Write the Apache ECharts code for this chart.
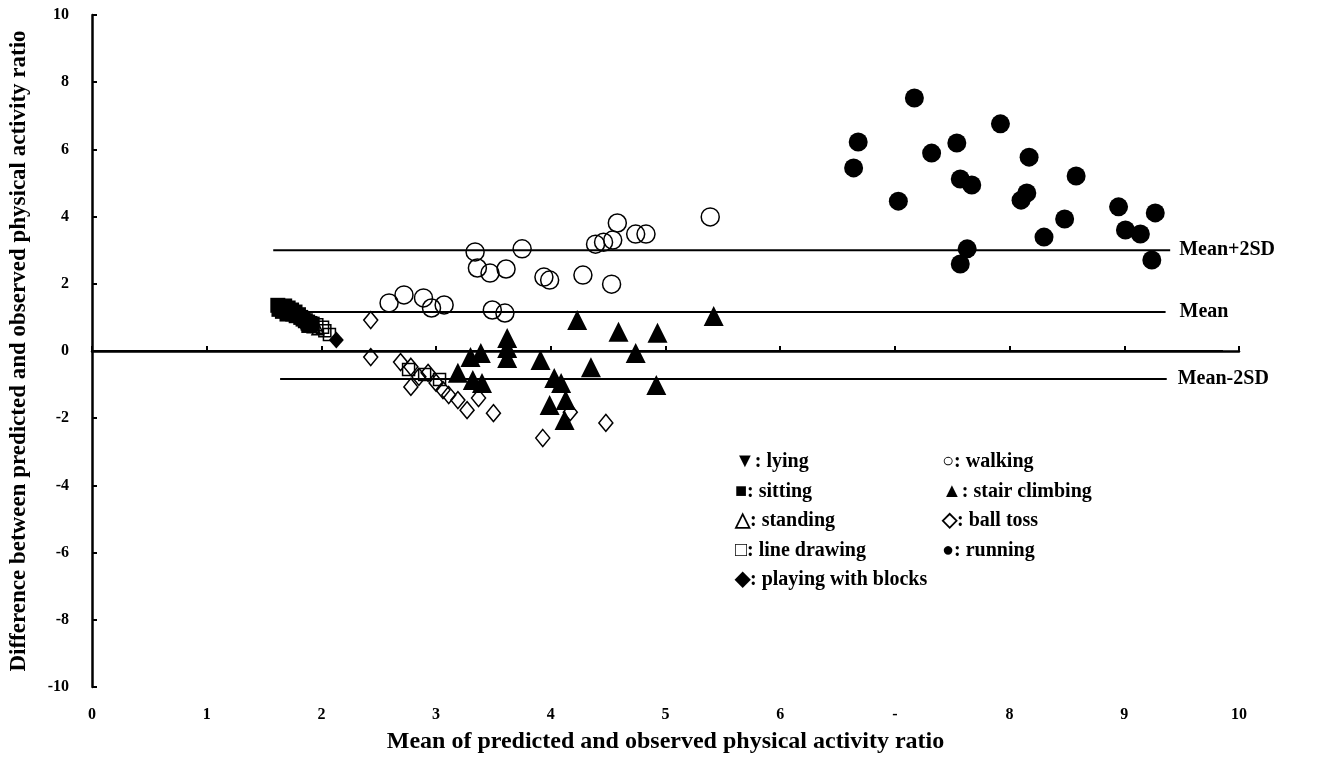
<!DOCTYPE html>
<html>
<head>
<meta charset="utf-8">
<script src="https://cdn.jsdelivr.net/npm/echarts@6/dist/echarts.min.js"></script>
<style>
html,body{margin:0;padding:0;background:#fff;}
#chart{width:1322px;height:772px;}
</style>
</head>
<body>
<div id="chart"></div>
<script>
// ---- data ----
const xTickLabels = ['0','1','2','3','4','5','6','-','8','9','10'];
const yTickLabels = ['-10','-8','-6','-4','-2','0','2','4','6','8','10'];

const lying = [[1.64,1.30],[1.69,1.21],[1.74,1.13],[1.79,1.04],[1.84,0.97]];
const sitting = [[1.62,1.36],[1.63,1.24],[1.65,1.30],[1.66,1.18],[1.68,1.34],[1.69,1.22],[1.71,1.28],[1.72,1.15],[1.74,1.22],[1.75,1.10],[1.77,1.16],[1.78,1.05],[1.80,1.08],[1.82,1.00],[1.84,0.95],[1.86,0.90],[1.88,0.86],[1.90,0.82],[1.89,0.76],[1.92,0.80],[1.70,1.10],[1.66,1.26]];
const standing = [[1.88,0.80],[1.93,0.72],[1.97,0.66]];
const lineDrawing = [[1.96,0.78],[2.01,0.71],[2.03,0.60],[2.07,0.49],[2.76,-0.55],[2.90,-0.70],[3.03,-0.85]];
const playingBlocks = [[2.13,0.33]];
const walking = [[2.59,1.43],[2.72,1.67],[2.89,1.58],[2.96,1.28],[3.07,1.37],[3.49,1.22],[3.60,1.13],[3.34,2.95],[3.36,2.47],[3.47,2.32],[3.61,2.44],[3.75,3.04],[3.94,2.20],[3.99,2.11],[4.28,2.26],[4.58,3.81],[4.39,3.18],[4.46,3.24],[4.54,3.30],[4.74,3.48],[4.83,3.48],[5.39,3.99],[4.53,1.99]];
const stairClimbing = [[3.19,-0.65],[3.30,-0.18],[3.39,-0.06],[3.32,-0.86],[3.40,-0.95],[3.62,0.39],[3.62,0.09],[3.62,-0.21],[3.91,-0.27],[4.03,-0.80],[4.09,-0.95],[3.99,-1.61],[4.13,-1.46],[4.12,-2.05],[4.23,0.92],[4.59,0.57],[4.93,0.54],[4.74,-0.06],[4.35,-0.48],[4.92,-1.01],[5.42,1.04]];
const ballToss = [[2.43,0.92],[2.43,-0.18],[2.69,-0.33],[2.78,-0.47],[2.85,-0.77],[2.93,-0.65],[3.00,-0.95],[3.06,-1.16],[3.11,-1.31],[3.19,-1.46],[3.27,-1.76],[3.37,-1.40],[3.50,-1.85],[2.78,-1.07],[3.93,-2.59],[4.17,-1.82],[4.48,-2.14]];
const running = [[6.64,5.45],[6.68,6.22],[7.03,4.46],[7.17,7.53],[7.32,5.89],[7.54,6.19],[7.57,5.12],[7.67,4.94],[7.63,3.04],[7.57,2.59],[7.92,6.76],[8.17,5.77],[8.10,4.49],[8.15,4.70],[8.30,3.39],[8.48,3.93],[8.58,5.21],[8.95,4.29],[9.01,3.60],[9.14,3.48],[9.27,4.11],[9.24,2.71]];

const meanPlus2SDLine = [[1.58,3.0],[9.40,3.0]];
const meanLine = [[1.58,1.16],[9.36,1.16]];
const zeroLine = [[0,0],[9.86,0]];
const meanMinus2SDLine = [[1.64,-0.83],[9.37,-0.83]];

const legendCol1 = ['\u25BC: lying','\u25A0: sitting','\u25B3: standing','\u25A1: line drawing','\u25C6: playing with blocks'];
const legendCol2 = ['\u25CB: walking','\u25B2: stair climbing','\u25C7: ball toss','\u25CF: running'];

// ---- chart ----
const FONT = '"Liberation Serif","Times New Roman",serif';
const chart = echarts.init(document.getElementById('chart'));

function scatter(name, data, symbol, size, filled, rotate) {
  return {
    name, type: 'scatter', data, symbol, symbolSize: size, symbolRotate: rotate || 0,
    itemStyle: {
      color: filled ? '#000' : 'rgba(0,0,0,0)',
      borderColor: '#000', borderWidth: filled ? 0 : 1.5, opacity: 1
    },
    emphasis: {disabled: true}, z: 3
  };
}
function hline(name, data, label, dist) {
  return {
    name, type: 'line', data, symbol: 'none', silent: true,
    lineStyle: {color: '#000', width: 2},
    endLabel: label ? {show: true, formatter: label, distance: dist, color: '#000',
      fontFamily: FONT, fontWeight: 'bold', fontSize: 20} : {show: false},
    z: 2
  };
}

const legendStyle = {fontFamily: FONT, fontWeight: 'bold', fontSize: 20, fill: '#000'};
const graphics = [];
legendCol1.forEach((t, i) => graphics.push({type: 'text', left: 735, top: 452 + i * 29.5, style: Object.assign({text: t}, legendStyle)}));
legendCol2.forEach((t, i) => graphics.push({type: 'text', left: 942, top: 452 + i * 29.5, style: Object.assign({text: t}, legendStyle)}));

chart.setOption({
  animation: false,
  backgroundColor: '#fff',
  grid: {left: 91, right: 83, top: 15, bottom: 85, containLabel: false},
  xAxis: {
    type: 'value', min: 0, max: 10, interval: 1,
    name: 'Mean of predicted and observed physical activity ratio',
    nameLocation: 'middle', nameGap: 43,
    nameTextStyle: {fontFamily: FONT, fontWeight: 'bold', fontSize: 24, color: '#000'},
    axisLine: {lineStyle: {color: '#000', width: 2.5}},
    axisTick: {inside: true, length: 5, lineStyle: {color: '#000', width: 2}},
    axisLabel: {fontFamily: FONT, fontWeight: 'bold', fontSize: 16, color: '#000', margin: 20,
      formatter: (v) => xTickLabels[Math.round(v)]},
    splitLine: {show: false}
  },
  yAxis: {
    type: 'value', min: -10, max: 10, interval: 2,
    name: 'Difference between predicted and observed physical activity ratio',
    nameLocation: 'middle', nameGap: 61, nameRotate: 90,
    nameTextStyle: {fontFamily: FONT, fontWeight: 'bold', fontSize: 23, color: '#000'},
    axisLine: {show: true, lineStyle: {color: '#000', width: 2.5}},
    axisTick: {show: true, inside: true, length: 5, lineStyle: {color: '#000', width: 2}},
    axisLabel: {fontFamily: FONT, fontWeight: 'bold', fontSize: 16, color: '#000', margin: 23,
      formatter: (v) => yTickLabels[Math.round((v + 10) / 2)]},
    splitLine: {show: false}
  },
  graphic: graphics,
  series: [
    hline('Mean+2SD', meanPlus2SDLine, 'Mean+2SD', 9),
    hline('Mean', meanLine, 'Mean', 14),
    hline('Zero', zeroLine, null, 0),
    hline('Mean-2SD', meanMinus2SDLine, 'Mean-2SD', 11),
    scatter('ball toss', ballToss, 'diamond', [14, 17], false),
    scatter('line drawing', lineDrawing, 'rect', 12, false),
    scatter('walking', walking, 'circle', 18, false),
    scatter('stair climbing', stairClimbing, 'triangle', 20, true),
    scatter('running', running, 'circle', 19, true),
    scatter('sitting', sitting, 'rect', 15, true),
    scatter('lying', lying, 'triangle', 14, true, 180),
    scatter('standing', standing, 'triangle', 12, false),
    scatter('playing with blocks', playingBlocks, 'diamond', [15, 17], true)
  ]
});
</script>
</body>
</html>
